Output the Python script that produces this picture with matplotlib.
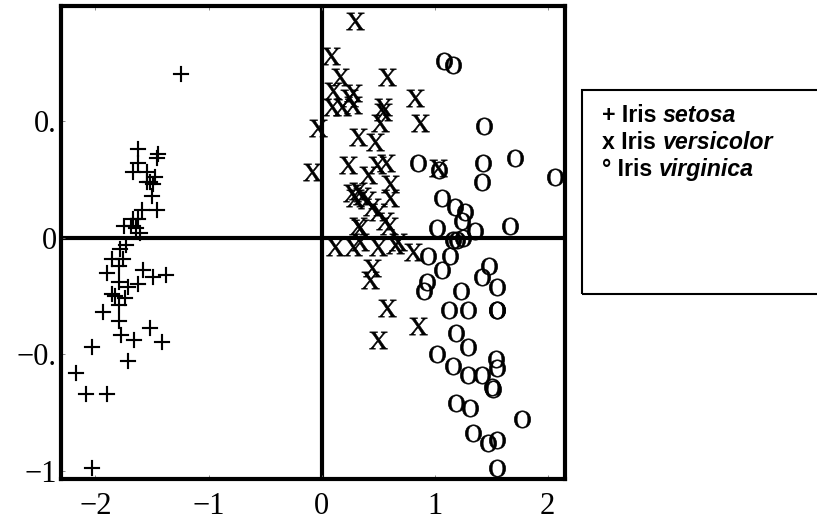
import matplotlib
matplotlib.use("Agg")
import matplotlib.pyplot as plt
from matplotlib.patches import Rectangle

# Iris setosa (+)
setosa_x = [-1.24, -1.62, -1.62, -1.45, -1.46, -1.67, -1.54, -1.47, -1.54, -1.52,
            -1.49, -1.50, -1.46, -1.59, -1.67, -1.62, -1.75, -1.69, -1.64, -1.61,
            -1.73, -1.78, -1.85, -1.76, -1.79, -1.58, -1.49, -1.38, -1.90, -1.79,
            -1.71, -1.62, -1.85, -1.83, -1.74, -1.79, -1.93, -1.79, -1.52, -1.77,
            -1.66, -1.41, -2.03, -1.71, -2.17, -2.08, -1.90, -2.03]
setosa_y = [0.70, 0.38, 0.32, 0.36, 0.34, 0.28, 0.28, 0.26, 0.24, 0.24,
            0.23, 0.18, 0.12, 0.12, 0.08, 0.08, 0.05, 0.05, 0.04, 0.02,
            -0.03, -0.05, -0.09, -0.09, -0.12, -0.14, -0.17, -0.16, -0.15, -0.19,
            -0.21, -0.20, -0.24, -0.25, -0.26, -0.29, -0.32, -0.36, -0.39, -0.42,
            -0.44, -0.45, -0.47, -0.53, -0.58, -0.67, -0.67, -0.99]

# Iris versicolor (x)
versicolor_x = [0.30, 0.08, 0.16, 0.58, 0.10, 0.28, 0.24, 0.09, 0.18, 0.28,
                0.54, 0.54, 0.83, 0.52, 0.87, -0.03, 0.32, 0.47, -0.08, 0.23,
                0.49, 0.57, 0.41, 0.61, 0.27, 0.32, 0.36, 0.30, 0.40, 0.61,
                0.45, 0.50, 0.56, 0.32, 0.34, 0.60, 0.12, 0.28, 0.34, 0.50,
                0.65, 0.68, 0.81, 1.03, 0.45, 0.43, 0.58, 0.85, 0.50]
versicolor_y = [0.93, 0.78, 0.69, 0.69, 0.63, 0.62, 0.60, 0.56, 0.56, 0.57,
                0.56, 0.54, 0.60, 0.49, 0.49, 0.47, 0.43, 0.41, 0.28, 0.31,
                0.31, 0.32, 0.27, 0.23, 0.19, 0.20, 0.18, 0.17, 0.16, 0.17,
                0.13, 0.11, 0.07, 0.05, 0.04, 0.05, -0.04, -0.04, -0.02, -0.04,
                -0.03, -0.02, -0.06, 0.30, -0.13, -0.18, -0.30, -0.38, -0.44]

# Iris virginica (o)
virginica_x = [1.08, 1.16, 1.44, 0.85, 1.04, 1.43, 1.71, 1.42, 2.07, 1.07,
               1.18, 1.27, 1.24, 1.36, 1.02, 1.67, 1.16, 1.20, 1.25, 0.94,
               1.14, 1.07, 1.48, 1.42, 1.55, 0.93, 0.91, 1.23, 1.13, 1.30,
               1.55, 1.55, 1.19, 1.30, 1.02, 1.16, 1.54, 1.55, 1.30, 1.42,
               1.51, 1.52, 1.19, 1.31, 1.77, 1.34, 1.47, 1.55, 1.55]
virginica_y = [0.76, 0.74, 0.48, 0.32, 0.29, 0.32, 0.34, 0.24, 0.26, 0.17,
               0.13, 0.11, 0.07, 0.03, 0.04, 0.05, -0.01, -0.01, 0.00, -0.08,
               -0.08, -0.14, -0.12, -0.17, -0.21, -0.19, -0.23, -0.23, -0.31, -0.31,
               -0.31, -0.31, -0.41, -0.47, -0.50, -0.55, -0.52, -0.56, -0.59, -0.59,
               -0.64, -0.65, -0.71, -0.73, -0.78, -0.84, -0.88, -0.87, -0.99]

x_ticks = [-2, -1, 0, 1, 2]
x_ticklabels = ["\u22122", "\u22121", "0", "1", "2"]
y_ticks = [-1, -0.5, 0, 0.5]
y_ticklabels = ["\u22121", "\u22120.", "0", "0."]

legend_prefix = ["+ Iris", "x Iris", "\u00b0 Iris"]
legend_species = ["setosa", "versicolor", "virginica"]

plt.rcParams['mathtext.fontset'] = 'stix'

fig = plt.figure(figsize=(8.17, 5.21), dpi=100)
ax = fig.add_axes([0.0747, 0.0806, 0.6169, 0.9079])

ax.axhline(0, color="black", lw=3, zorder=1)
ax.axvline(0, color="black", lw=3, zorder=1)

marker_kw = dict(ls="none", color="black", zorder=3)
ax.plot(setosa_x, setosa_y, marker=r"$+$", ms=11, mew=0.1, **marker_kw)
ax.plot(versicolor_x, versicolor_y, marker=r"$\mathrm{X}$", ms=13, mew=0.4, **marker_kw)
ax.plot(virginica_x, virginica_y, marker=r"$\mathrm{O}$", ms=12.5, mew=0.4, **marker_kw)

ax.set_xlim(-2.305, 2.155)
ax.set_ylim(-1.036, 0.994)

for spine in ax.spines.values():
    spine.set_linewidth(3)

ax.set_xticks(x_ticks)
ax.set_xticklabels(x_ticklabels, fontfamily="Liberation Serif", fontsize=22)
ax.set_yticks(y_ticks)
ax.set_yticklabels(y_ticklabels, fontfamily="Liberation Serif", fontsize=22)
ax.tick_params(direction="in", length=3, width=0.6, color="#777777", top=True)
ax.tick_params(axis="x", pad=9)
ax.tick_params(axis="y", pad=3)

# legend box, runs off the right edge of the figure
fig.add_artist(Rectangle((0.7124, 0.4357), 0.35, 0.3916, transform=fig.transFigure,
                         fill=False, lw=1.5, ec="black", clip_on=False))

baselines = [122, 149, 176]
for prefix, species, b in zip(legend_prefix, legend_species, baselines):
    t1 = fig.text(0.7369, 1 - b / 521, prefix, fontsize=16.7, fontweight="bold",
                  family="Liberation Sans", va="baseline")
    ax.annotate(species, xy=(1, 0), xycoords=t1, xytext=(4.6, 0),
                textcoords="offset points", va="bottom", ha="left",
                fontsize=16.7, fontweight="bold", fontstyle="italic",
                family="Liberation Sans", annotation_clip=False)

fig.savefig("out.png", dpi=100)
